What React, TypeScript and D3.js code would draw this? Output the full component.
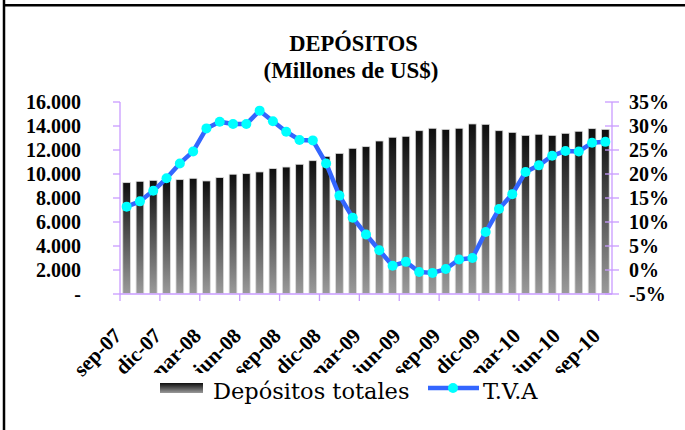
import React from 'react';
import * as d3 from 'd3';

const months = [
  'sep-07','oct-07','nov-07','dic-07','ene-08','feb-08','mar-08','abr-08','may-08','jun-08','jul-08','ago-08',
  'sep-08','oct-08','nov-08','dic-08','ene-09','feb-09','mar-09','abr-09','may-09','jun-09','jul-09','ago-09',
  'sep-09','oct-09','nov-09','dic-09','ene-10','feb-10','mar-10','abr-10','may-10','jun-10','jul-10','ago-10','sep-10'
];

const deposits = [
  9280, 9390, 9470, 9580, 9530, 9640, 9420, 9700, 9980, 10030, 10170, 10450,
  10580, 10810, 11110, 11470, 11720, 12140, 12280, 12750, 13060, 13140, 13610, 13810,
  13720, 13810, 14170, 14140, 13610, 13470, 13220, 13310, 13220, 13390, 13560, 13780, 13720
];

const tva = [
  13.2, 14.3, 16.5, 19.1, 22.2, 24.7, 29.5, 30.9, 30.4, 30.4, 33.2, 31.0,
  28.8, 27.1, 27.0, 22.2, 15.5, 10.9, 7.4, 4.1, 0.9, 1.7, -0.4, -0.6,
  0.2, 2.2, 2.5, 7.9, 12.7, 15.8, 20.4, 21.8, 23.8, 24.8, 24.7, 26.5, 26.7
];

const leftTicks = [0, 2000, 4000, 6000, 8000, 10000, 12000, 14000, 16000];
const rightTicks = [-5, 0, 5, 10, 15, 20, 25, 30, 35];
const xLabels = ['sep-07','dic-07','mar-08','jun-08','sep-08','dic-08','mar-09','jun-09','sep-09','dic-09','mar-10','jun-10','sep-10'];

const title = 'DEPÓSITOS';
const subtitle = '(Millones de US$)';
const seriesNames = ['Depósitos totales', 'T.V.A'];

export default function App() {
  const W = 685, H = 430;
  const x0 = 120, x1 = 612, yTop = 102, yBot = 294;
  const axisColor = '#C99BFF';
  const font = "'DejaVu Serif', serif";
  const tfont = "'Liberation Serif', serif";

  const xBand = d3.scaleBand<string>().domain(months).range([x0, x1]).paddingInner(0.42).paddingOuter(0.21);
  const bw = xBand.bandwidth();
  const xIdx = d3.scaleLinear().domain([0, months.length]).range([x0, x1]);
  const yL = d3.scaleLinear().domain([0, 16000]).range([yBot, yTop]);
  const yR = d3.scaleLinear().domain([-5, 35]).range([yBot, yTop]);
  const cx = (i: number) => (xBand(months[i]) as number) + bw / 2;
  const line = d3.line<number>().x((_, i) => cx(i)).y(d => yR(d));
  const fmtL = (v: number) => (v === 0 ? '-' : d3.format(',')(v).replace(/,/g, '.'));
  const tickIdx = d3.range(0, months.length, 3);

  return (
    <svg width={W} height={H} style={{ position: 'absolute', left: 0, top: 0, background: '#fff' }}>
      <defs>
        <linearGradient id="barGrad" x1="0" y1="0" x2="0" y2="1">
          <stop offset="0" stopColor="#0e0e0e" />
          <stop offset="1" stopColor="#9a9a9a" />
        </linearGradient>
      </defs>
      <rect x={0} y={0} width={W} height={H} fill="#fff" />
      {/* frame */}
      <line x1={4} y1={0} x2={4} y2={H} stroke="#000" strokeWidth={2.5} />
      <line x1={4} y1={5.3} x2={W} y2={5.3} stroke="#000" strokeWidth={2.5} />

      {/* title */}
      <text x={353.5} y={51} textAnchor="middle" fontFamily={tfont} fontWeight="bold" fontSize={22.5}>{title}</text>
      <text x={351} y={78} textAnchor="middle" fontFamily={tfont} fontWeight="bold" fontSize={23}>{subtitle}</text>

      {/* bars */}
      {deposits.map((v, i) => (
        <rect key={i} x={xBand(months[i])} y={yL(v)} width={bw} height={yBot - yL(v) - 0.5}
          fill="url(#barGrad)" stroke="#dcdcdc" strokeWidth={0.8} />
      ))}

      {/* axes */}
      <line x1={x0} y1={yTop} x2={x0} y2={yBot} stroke={axisColor} strokeWidth={1.3} />
      <line x1={x1} y1={yTop} x2={x1} y2={yBot} stroke={axisColor} strokeWidth={1.3} />
      <line x1={x0} y1={yBot} x2={x1} y2={yBot} stroke={axisColor} strokeWidth={1.3} />
      {leftTicks.map(t => (
        <g key={'l' + t}>
          <line x1={x0 - 7} y1={yL(t)} x2={x0} y2={yL(t)} stroke={axisColor} strokeWidth={1.3} />
          <text x={81} y={yL(t)} dy="0.34em" textAnchor="end" fontFamily={tfont} fontWeight="bold" fontSize={20}>{fmtL(t)}</text>
        </g>
      ))}
      {rightTicks.map(t => (
        <g key={'r' + t}>
          <line x1={x1 - 7} y1={yR(t)} x2={x1 + 7} y2={yR(t)} stroke={axisColor} strokeWidth={1.3} />
          <text x={629} y={yR(t)} dy="0.34em" textAnchor="start" fontFamily={tfont} fontWeight="bold" fontSize={20}>{t + '%'}</text>
        </g>
      ))}
      {tickIdx.map(k => (
        <line key={'t' + k} x1={xIdx(k)} y1={yBot} x2={xIdx(k)} y2={yBot + 7} stroke={axisColor} strokeWidth={1.3} />
      ))}

      {/* line */}
      <path d={line(tva) as string} fill="none" stroke="#3366FF" strokeWidth={4.5} strokeLinejoin="round" />
      {tva.map((v, i) => (
        <circle key={'c' + i} cx={cx(i)} cy={yR(v)} r={5} fill="#00FFFF" />
      ))}

      {/* x labels */}
      {xLabels.map((lab, j) => {
        const k = j * 3;
        const ax = cx(k) - 4;
        const ay = 337;
        return (
          <text key={lab} x={ax} y={ay} transform={`rotate(-45 ${ax} ${ay})`} textAnchor="end"
            fontFamily={tfont} fontWeight="bold" fontSize={21}>{lab}</text>
        );
      })}

      {/* legend */}
      <rect x={140} y={373} width={460} height={36} fill="#fff" />
      <rect x={160} y={383} width={43} height={10} fill="url(#barGrad)" />
      <text x={213} y={399} fontFamily={font} fontSize={22.5}>{seriesNames[0]}</text>
      <line x1={428} y1={388} x2={479} y2={388} stroke="#3366FF" strokeWidth={4.5} />
      <circle cx={453} cy={388} r={5} fill="#00FFFF" />
      <text x={483} y={399} fontFamily={font} fontSize={22.5}>{seriesNames[1]}</text>
    </svg>
  );
}
